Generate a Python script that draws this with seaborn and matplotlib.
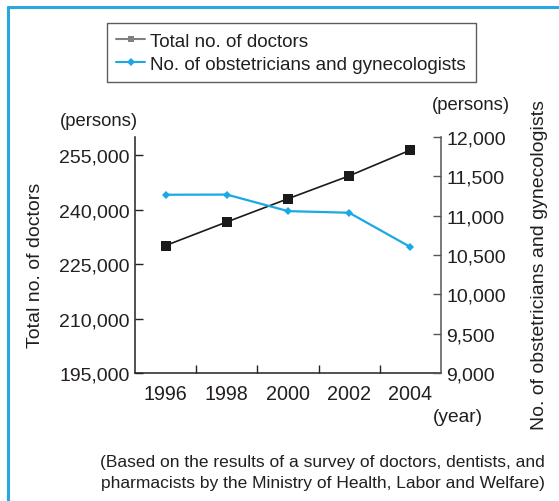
import numpy as np
import pandas as pd
import matplotlib
matplotlib.use("Agg")
import matplotlib.pyplot as plt
import seaborn as sns
from matplotlib.lines import Line2D
from matplotlib.ticker import FuncFormatter, FixedLocator

# data
years = [1996, 1998, 2000, 2002, 2004]
total_doctors = [230100, 236600, 243000, 249300, 256400]
obgyn = [11266, 11268, 11058, 11037, 10601]

left_ticks = [195000, 210000, 225000, 240000, 255000]
right_ticks = [9000, 9500, 10000, 10500, 11000, 11500, 12000]

label_total = "Total no. of doctors"
label_obgyn = "No. of obstetricians and gynecologists"
note_1 = "(Based on the results of a survey of doctors, dentists, and"
note_2 = "pharmacists by the Ministry of Health, Labor and Welfare)"

df = pd.DataFrame({"year": years, "total": total_doctors, "obgyn": obgyn})

sns.set_theme(style="white")
plt.rcParams["font.family"] = ["Liberation Sans", "DejaVu Sans"]

TXT = "#231f20"
BLUE = "#1aa9e4"
W, H = 559, 502


def fx(x):
    return x / W


def fy(y):
    return 1 - y / H


fig = plt.figure(figsize=(W / 100, H / 100), dpi=100)
fig.patch.set_facecolor("white")
ax = fig.add_axes([fx(135), fy(374), 306 / W, 236 / H])
ax2 = ax.twinx()

sns.lineplot(data=df, x="year", y="total", ax=ax, color="#1a1a1a",
             linewidth=1.2, marker="s", markersize=6.5,
             markeredgewidth=0, zorder=3)
sns.lineplot(data=df, x="year", y="obgyn", ax=ax2, color=BLUE,
             linewidth=1.6, marker="D", markersize=4.5,
             markeredgewidth=0, zorder=2)

ax.set_xlim(1995, 2005)
ax.set_ylim(195000, 260000)
ax2.set_ylim(9000, 12000)

comma = FuncFormatter(lambda v, p: f"{int(v):,}")
ax.yaxis.set_major_locator(FixedLocator(left_ticks))
ax.yaxis.set_major_formatter(comma)
ax2.yaxis.set_major_locator(FixedLocator(right_ticks))
ax2.yaxis.set_major_formatter(comma)

ax.set_xticks(years)
ax.set_xticklabels([str(y) for y in years])
ax.set_xticks([1997, 1999, 2001, 2003], minor=True)

ax.set_xlabel("")
ax.set_ylabel("")
ax2.set_ylabel("")

for a in (ax, ax2):
    a.spines["top"].set_visible(False)
    a.set_facecolor("none")
ax.spines["right"].set_visible(False)
ax2.spines["left"].set_visible(False)
ax2.spines["bottom"].set_visible(False)
ax.spines["left"].set_color("#222222")
ax.spines["bottom"].set_color("#222222")
ax2.spines["right"].set_color("#555555")
for s in ("left", "bottom"):
    ax.spines[s].set_linewidth(1.1)
ax2.spines["right"].set_linewidth(1.1)

ax.tick_params(axis="y", which="major", direction="in", length=6, width=1,
               color="#222222", labelsize=14, labelcolor=TXT, pad=4)
ax.tick_params(axis="x", which="major", length=0, labelsize=14.2,
               labelcolor=TXT, pad=8)
ax.tick_params(axis="x", which="minor", direction="in", length=6, width=1,
               color="#222222", bottom=True)
ax2.tick_params(axis="y", which="major", direction="in", length=6, width=1,
                color="#555555", labelsize=14, labelcolor=TXT, pad=4)

# axis titles and units
fig.text(fx(36), fy(265), label_total, rotation=90, ha="center",
         va="center", fontsize=14, color=TXT)
fig.text(fx(540), fy(265), label_obgyn, rotation=90, ha="center",
         va="center", fontsize=14, color=TXT)
fig.text(fx(99), fy(121), "(persons)", ha="center", va="center",
         fontsize=13.3, color=TXT)
fig.text(fx(471), fy(106), "(persons)", ha="center", va="center",
         fontsize=13.3, color=TXT)
fig.text(fx(458), fy(418), "(year)", ha="center", va="center",
         fontsize=13.8, color=TXT)
fig.text(fx(545), fy(463), note_1, ha="right", va="center",
         fontsize=12.5, color=TXT)
fig.text(fx(545), fy(484), note_2, ha="right", va="center",
         fontsize=12.5, color=TXT)

handles = [
    Line2D([], [], color="#808080", linewidth=1.5, marker="s",
           markersize=5, markeredgewidth=0),
    Line2D([], [], color=BLUE, linewidth=1.5, marker="D",
           markersize=4, markeredgewidth=0),
]
leg = fig.legend(handles, [label_total, label_obgyn], loc="upper left",
                 bbox_to_anchor=(fx(107), fy(24)), borderaxespad=0,
                 fontsize=13.6, frameon=True, fancybox=False,
                 handlelength=1.5, handletextpad=0.3, borderpad=0.5,
                 labelspacing=0.32)
leg.get_frame().set_edgecolor("#333333")
leg.get_frame().set_linewidth(1.0)
for t in leg.get_texts():
    t.set_color(TXT)

# light blue frame (only left and top edges visible)
fig.add_artist(Line2D([fx(8), fx(8)], [fy(8), 0], color="#29a8e0",
                      linewidth=2.2, transform=fig.transFigure))
fig.add_artist(Line2D([fx(8), 1], [fy(8), fy(8)], color="#29a8e0",
                      linewidth=2.2, transform=fig.transFigure))

fig.savefig("out.png", dpi=100)
